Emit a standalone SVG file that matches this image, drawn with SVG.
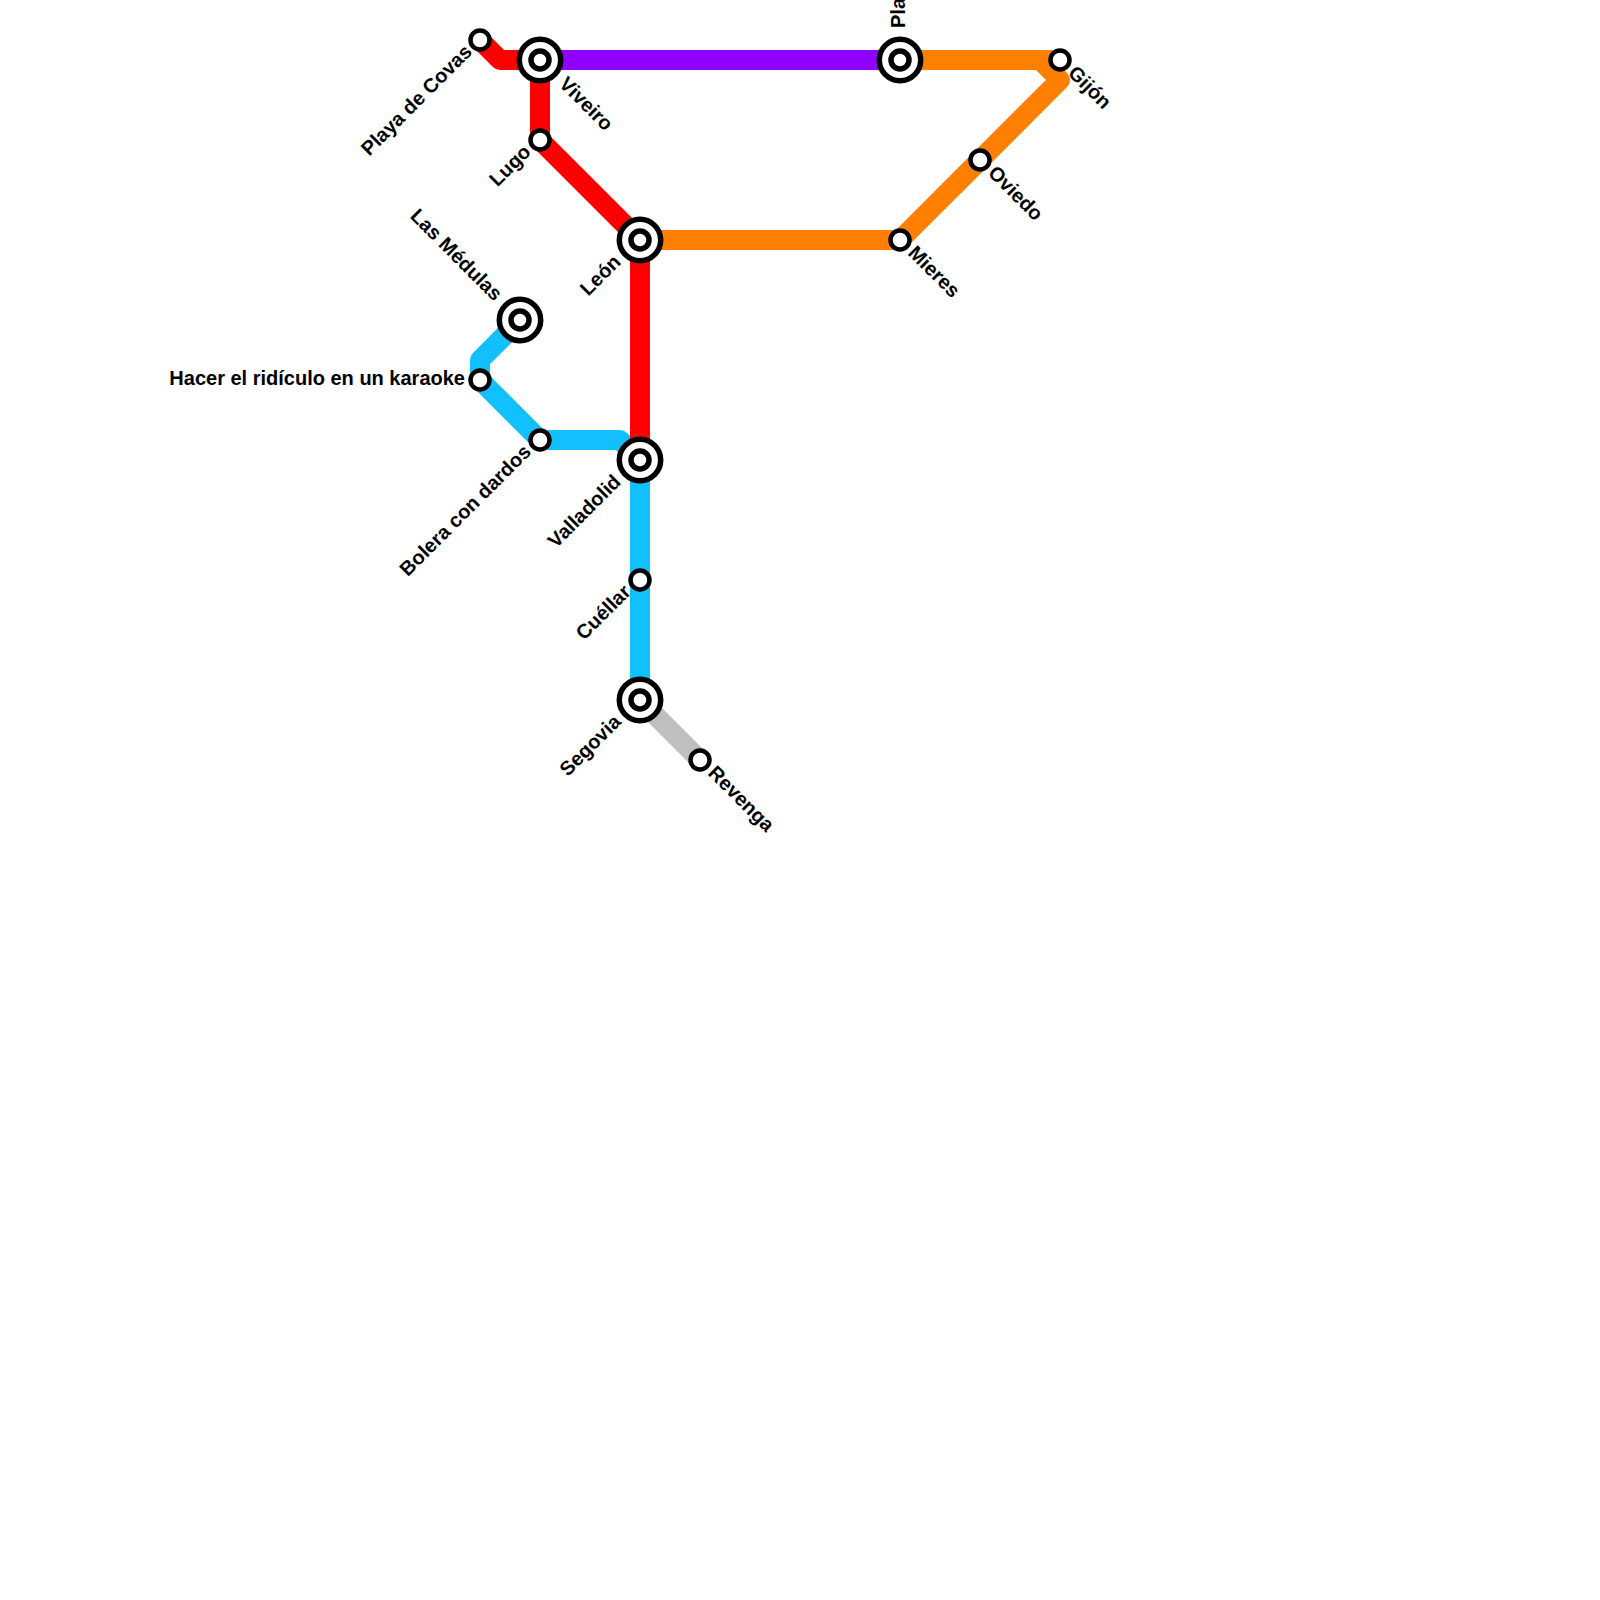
<svg xmlns="http://www.w3.org/2000/svg" width="1600" height="1600" viewBox="0 0 1600 1600">
<style>
.l{fill:none;stroke-width:20;stroke-linecap:round;stroke-linejoin:round}
.o{fill:#fff;stroke:#000;stroke-width:5.5}
.i{fill:#fff;stroke:#000;stroke-width:5.5}
.s{fill:#fff;stroke:#000;stroke-width:4.5}
text{font-family:"Liberation Sans",Arial,sans-serif;font-weight:700;font-size:20px;fill:#000}
</style>
<rect width="1600" height="1600" fill="#fff"/>
<g id="connectors">
<path class="l" stroke="#bfbfbf" d="M640 700L700 760"/>
<path class="l" stroke="#12c0ff" d="M520 320L480 360V380L540 440H620L640 460V700"/>
<path class="l" stroke="#ff8000" d="M640 240H900L1060 80L1040 60M900 60H1052"/>
<path class="l" stroke="#ff0000" d="M480 40L500 60H540V140L640 240V460"/>
<path class="l" stroke="#8f00ff" d="M540 60H900"/>
</g>
<g id="playa-de-covas"><circle class="s" cx="480" cy="40" r="9.5"/><text transform="translate(473 53) rotate(-45)" text-anchor="end">Playa de Covas</text></g>
<g id="viveiro"><circle class="o" cx="540" cy="60" r="20.7"/><circle class="i" cx="540" cy="60" r="9"/><text transform="translate(563 80) rotate(45)" dy="7">Viveiro</text></g>
<g id="lugo"><circle class="s" cx="540" cy="140" r="9.5"/><text transform="translate(532 153) rotate(-45)" text-anchor="end">Lugo</text></g>
<g id="leon"><circle class="o" cx="640" cy="240" r="20.7"/><circle class="i" cx="640" cy="240" r="9"/><text transform="translate(622 263) rotate(-45)" text-anchor="end">León</text></g>
<g id="las-medulas"><circle class="o" cx="520" cy="320" r="20.7"/><circle class="i" cx="520" cy="320" r="9"/><text transform="translate(499 297) rotate(45)" text-anchor="end" dy="7">Las Médulas</text></g>
<g id="hacer-karaoke"><circle class="s" cx="480" cy="380" r="9.5"/><text x="465" y="385" text-anchor="end">Hacer el ridículo en un karaoke</text></g>
<g id="bolera"><circle class="s" cx="540" cy="440" r="9.5"/><text transform="translate(532 453) rotate(-45)" text-anchor="end">Bolera con dardos</text></g>
<g id="valladolid"><circle class="o" cx="640" cy="460" r="20.7"/><circle class="i" cx="640" cy="460" r="9"/><text transform="translate(622 483) rotate(-45)" text-anchor="end">Valladolid</text></g>
<g id="cuellar"><circle class="s" cx="640" cy="580" r="9.5"/><text transform="translate(632 593) rotate(-45)" text-anchor="end">Cuéllar</text></g>
<g id="segovia"><circle class="o" cx="640" cy="700" r="20.7"/><circle class="i" cx="640" cy="700" r="9"/><text transform="translate(622 723) rotate(-45)" text-anchor="end">Segovia</text></g>
<g id="revenga"><circle class="s" cx="700" cy="760" r="9.5"/><text transform="translate(712 769) rotate(45)" dy="7">Revenga</text></g>
<g id="pla"><circle class="o" cx="900" cy="60" r="20.7"/><circle class="i" cx="900" cy="60" r="9"/><text transform="translate(905 28) rotate(-90)">Pla</text></g>
<g id="gijon"><circle class="s" cx="1060" cy="60" r="9.5"/><text transform="translate(1072 69) rotate(45)" dy="7">Gijón</text></g>
<g id="oviedo"><circle class="s" cx="980" cy="160" r="9.5"/><text transform="translate(992 169) rotate(45)" dy="7">Oviedo</text></g>
<g id="mieres"><circle class="s" cx="900" cy="240" r="9.5"/><text transform="translate(912 249) rotate(45)" dy="7">Mieres</text></g>
</svg>
